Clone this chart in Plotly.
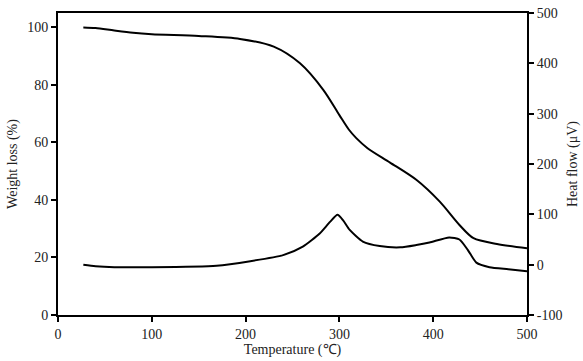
import plotly.graph_objects as go

temp_w = [27, 40, 60, 80, 100, 150, 194, 230, 258, 283, 300, 310, 318, 330, 354, 382, 407, 428, 443, 468, 500]
weight = [100, 99.8, 98.9, 98.1, 97.6, 97.0, 96.0, 93.3, 87.5, 78.2, 69.5, 64.5, 61.5, 58.0, 53.0, 47.0, 39.4, 31.3, 26.7, 24.7, 23.2]

temp_h = [27, 40, 60, 100, 169, 205, 240, 261, 279, 290, 298, 304, 311, 325, 343, 365, 382, 396, 417, 428, 437, 446, 460, 480, 500]
heat = [0, -3, -5, -5, -2, 7, 19, 36, 62, 85, 99, 88, 69, 46, 37, 34.5, 39, 44, 54, 50, 29, 4, -5, -9, -13]

x_ticks = [0, 100, 200, 300, 400, 500]
y1_ticks = [0, 20, 40, 60, 80, 100]
y2_ticks = [-100, 0, 100, 200, 300, 400, 500]
y2_labels = ["-100", "0", "100", "200", "300", "400", "500"]

font = dict(family="Liberation Serif, serif", size=14, color="#222")

fig = go.Figure()
fig.add_trace(go.Scatter(x=temp_w, y=weight, mode="lines",
                         line=dict(color="black", width=2, shape="spline", smoothing=0.8),
                         showlegend=False))
fig.add_trace(go.Scatter(x=temp_h, y=heat, mode="lines", yaxis="y2",
                         line=dict(color="black", width=2, shape="spline", smoothing=0.6),
                         showlegend=False))

fig.update_layout(
    width=583, height=361,
    margin=dict(l=58, r=56, t=13, b=46),
    paper_bgcolor="white", plot_bgcolor="white",
    font=font,
    xaxis=dict(range=[0, 500], tickvals=x_ticks, showline=True, linecolor="black", linewidth=2,
               mirror=True, ticks="outside", ticklen=5, tickwidth=2, tickcolor="black",
               showgrid=False, zeroline=False, automargin=False,
               title=dict(text="Temperature (℃)", font=font, standoff=0)),
    yaxis=dict(range=[0, 105], tickvals=y1_ticks, showline=True, linecolor="black", linewidth=2,
               ticks="outside", ticklen=5, tickwidth=2, tickcolor="black",
               showgrid=False, zeroline=False, automargin=False,
               title=dict(text="Weight loss (%)", font=font, standoff=6)),
    yaxis2=dict(range=[-100, 500], tickvals=y2_ticks, ticktext=y2_labels, overlaying="y", side="right",
                showline=True, linecolor="black", linewidth=2,
                ticks="outside", ticklen=5, tickwidth=2, tickcolor="black",
                showgrid=False, zeroline=False, automargin=False,
                title=dict(text="Heat flow (μV)", font=font, standoff=6)),
)

fig.write_html("out.html", config={"displayModeBar": False},
               post_script="document.body.style.margin='0';")
